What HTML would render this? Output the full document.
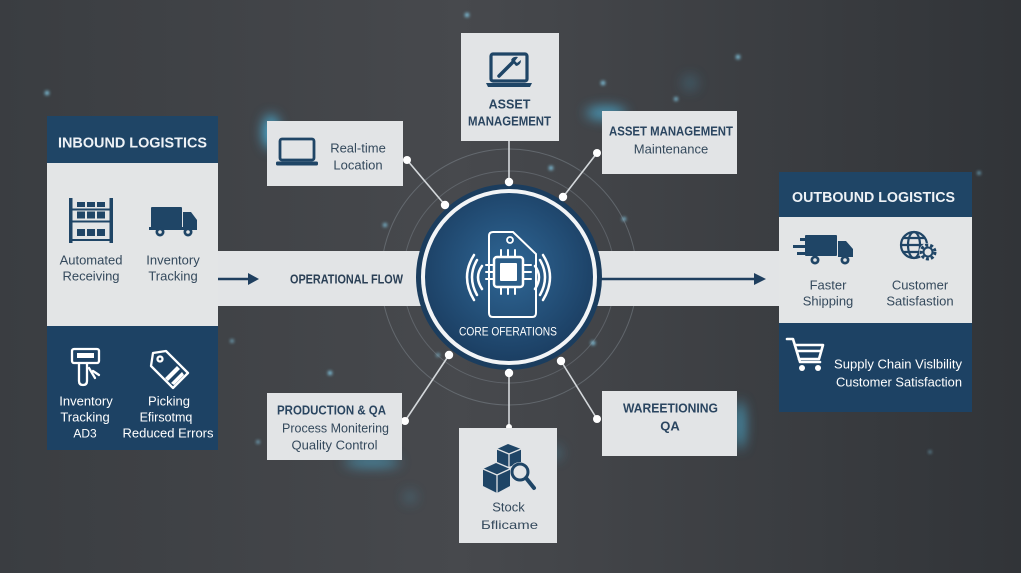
<!DOCTYPE html>
<html><head><meta charset="utf-8"><style>
html,body{margin:0;padding:0;width:1021px;height:573px;overflow:hidden;background:#414448}
svg{display:block}
text{font-family:"Liberation Sans",Arial,sans-serif}
</style></head><body>
<svg width="1021" height="573" viewBox="0 0 1021 573" xmlns="http://www.w3.org/2000/svg">
<defs>
<linearGradient id="bg" x1="0" y1="0" x2="1" y2="0">
<stop offset="0" stop-color="#3a3d41"/><stop offset="0.45" stop-color="#47494d"/><stop offset="1" stop-color="#313438"/>
</linearGradient>
<radialGradient id="core" cx="0.5" cy="0.45" r="0.55">
<stop offset="0" stop-color="#2f6796"/><stop offset="1" stop-color="#1b3e62"/>
</radialGradient>
<filter id="blur" x="-200%" y="-200%" width="500%" height="500%"><feGaussianBlur stdDeviation="6"/></filter>
<filter id="blur2" x="-200%" y="-200%" width="500%" height="500%"><feGaussianBlur stdDeviation="1.5"/></filter>
</defs>

<rect width="1021" height="573" fill="url(#bg)"/>

<!-- glows -->
<g filter="url(#blur)" fill="#4cc6f5">
<ellipse cx="271" cy="132" rx="8" ry="17" opacity="0.8"/>
<ellipse cx="606" cy="113" rx="20" ry="6" opacity="0.7"/>
<ellipse cx="372" cy="462" rx="28" ry="5" opacity="0.55"/>
<ellipse cx="740" cy="425" rx="5" ry="24" opacity="0.65"/>
<ellipse cx="690" cy="83" rx="8" ry="8" opacity="0.2"/>
<ellipse cx="410" cy="497" rx="6" ry="6" opacity="0.25"/>
<ellipse cx="555" cy="453" rx="7" ry="7" opacity="0.25"/>
</g>
<!-- particles -->
<g filter="url(#blur2)" fill="#8fe0ff">
<circle cx="47" cy="93" r="2"/><circle cx="467" cy="15" r="2"/><circle cx="738" cy="57" r="2"/>
<circle cx="603" cy="83" r="2"/><circle cx="676" cy="99" r="1.8"/><circle cx="551" cy="168" r="2"/>
<circle cx="385" cy="225" r="1.8"/><circle cx="624" cy="219" r="1.8"/><circle cx="593" cy="343" r="2"/>
<circle cx="438" cy="355" r="1.5"/><circle cx="330" cy="373" r="2"/><circle cx="232" cy="341" r="1.5"/>
<circle cx="258" cy="442" r="1.5"/><circle cx="979" cy="173" r="1.5"/><circle cx="957" cy="338" r="1.5"/>
<circle cx="930" cy="452" r="1.2"/>
</g>

<!-- concentric thin circles -->
<circle cx="509" cy="277" r="128" fill="none" stroke="#9aa6b0" stroke-opacity="0.35" stroke-width="1"/>
<circle cx="509" cy="277" r="106" fill="none" stroke="#9aa6b0" stroke-opacity="0.3" stroke-width="1"/>

<!-- flow band -->
<rect x="215" y="251" width="566" height="55" fill="#e2e4e6"/>
<line x1="216" y1="279" x2="250" y2="279" stroke="#1f3f5f" stroke-width="2.5"/>
<path d="M248 273 L259 279 L248 285 Z" fill="#1f3f5f"/>
<text x="290" y="283.5" font-size="12.5" font-weight="bold" fill="#2a3f55" textLength="113" lengthAdjust="spacingAndGlyphs">OPERATIONAL FLOW</text>
<line x1="598" y1="279" x2="756" y2="279" stroke="#1f3f5f" stroke-width="2.5"/>
<path d="M754 273 L766 279 L754 285 Z" fill="#1f3f5f"/>

<!-- connectors -->
<g stroke="#d4d8db" stroke-width="1.6">
<line x1="407" y1="160" x2="445" y2="205"/>
<line x1="509" y1="141" x2="509" y2="182"/>
<line x1="597" y1="153" x2="563" y2="197"/>
<line x1="449" y1="355" x2="405" y2="421"/>
<line x1="509" y1="373" x2="509" y2="427"/>
<line x1="561" y1="361" x2="597" y2="419"/>
</g>

<!-- core circle -->
<circle cx="509" cy="277" r="93" fill="#1b3d5e"/>
<circle cx="509" cy="277" r="86" fill="url(#core)" stroke="#f2f4f6" stroke-width="4"/>
<g fill="#ffffff">
<circle cx="407" cy="160" r="4"/><circle cx="445" cy="205" r="4.2"/>
<circle cx="509" cy="182" r="4.2"/><circle cx="563" cy="197" r="4.2"/><circle cx="597" cy="153" r="4"/>
<circle cx="449" cy="355" r="4.2"/><circle cx="509" cy="373" r="4.2"/><circle cx="561" cy="361" r="4.2"/>
<circle cx="405" cy="421" r="4"/><circle cx="597" cy="419" r="4"/><circle cx="509" cy="427" r="3"/>
</g>
<!-- chip icon -->
<g stroke="#ffffff" fill="none" stroke-linecap="round">
<path d="M489 236 Q489 232 493 232 L513 232 L536 254 L536 313 Q536 317 532 317 L493 317 Q489 317 489 313 Z" stroke-width="2"/>
<circle cx="510" cy="240" r="3" stroke-width="1.8"/>
<rect x="494" y="257" width="29" height="30" rx="3" stroke-width="2.5" fill="#2b5d88"/>
<path d="M501 250V257M508 250V257M515 250V257M501 287V294M508 287V294M515 287V294M486 265H494M486 272H494M486 279H494M523 265H531M523 272H531M523 279H531" stroke-width="2"/>
<path d="M482 266 Q474 277 482 289M477 260 Q467 277 477 295M474 255 Q460 277 474 300" stroke-width="2.5"/>
<path d="M535 266 Q543 277 535 289M540 260 Q550 277 540 295M543 255 Q557 277 543 300" stroke-width="2.5"/>
</g>
<rect x="500" y="263" width="17" height="18" rx="1" fill="#ffffff"/>
<text x="459" y="335.5" font-size="12" fill="#ffffff" textLength="98" lengthAdjust="spacingAndGlyphs">CORE OFERATIONS</text>

<!-- INBOUND panel -->
<rect x="47" y="116" width="171" height="47" fill="#1f4566"/>
<rect x="47" y="163" width="171" height="163" fill="#e3e5e6"/>
<rect x="47" y="326" width="171" height="124" fill="#1d4264"/>
<text x="58" y="147.5" font-size="14.5" font-weight="bold" fill="#eef2f6" textLength="149" lengthAdjust="spacingAndGlyphs">INBOUND LOGISTICS</text>
<g fill="#1f4566">
<rect x="69" y="198" width="3.5" height="45"/><rect x="109.5" y="198" width="3.5" height="45"/>
<rect x="69" y="208.5" width="44" height="2"/><rect x="69" y="220.5" width="44" height="2"/><rect x="69" y="239" width="44" height="2"/>
<rect x="77" y="202" width="8" height="5"/><rect x="87" y="202" width="8" height="5"/><rect x="97" y="202" width="8" height="5"/>
<rect x="77" y="211.5" width="8" height="7"/><rect x="87" y="211.5" width="8" height="7"/><rect x="97" y="211.5" width="8" height="7"/>
<rect x="77" y="229" width="8" height="7"/><rect x="87" y="229" width="8" height="7"/><rect x="97" y="229" width="8" height="7"/>
<rect x="151" y="207" width="31" height="21" rx="1"/>
<path d="M183 212 L191 212 L197 220 L197 228 L183 228 Z"/>
<rect x="149" y="227" width="48" height="3"/>
<circle cx="160" cy="232" r="4.5"/><circle cx="188" cy="232" r="4.5"/>
</g>
<circle cx="160" cy="232" r="1.8" fill="#e3e5e6"/><circle cx="188" cy="232" r="1.8" fill="#e3e5e6"/>
<g font-size="13" fill="#34495c" text-anchor="middle">
<text x="91" y="264.5">Automated</text><text x="91" y="280.5">Receiving</text>
<text x="173" y="264.5">Inventory</text><text x="173" y="280.5">Tracking</text>
</g>
<g stroke="#ffffff" fill="none" stroke-width="2.3" stroke-linecap="round" stroke-linejoin="round">
<rect x="72" y="349" width="27" height="14" rx="2"/>
<path d="M79 363 V381 Q79 385 83 385 Q87 385 87 381 V363"/>
<path d="M89 368 L95 378 M93 371 L99 375"/>
<path d="M153 353 L166 351 L188 373 L173 388 L151 366 Z"/>
<circle cx="160" cy="359" r="2.5"/>
</g>
<rect x="77" y="353" width="17" height="5" fill="#ffffff"/>
<path d="M165 378 L177 366 L180 369 L168 381 Z M171 383 L182 372 L184 375 L174 385 Z" fill="#ffffff"/>
<g font-size="13" fill="#ffffff" text-anchor="middle">
<text x="86" y="405.5">Inventory</text><text x="85" y="421.5">Tracking</text><text x="85" y="437.5" font-size="12">AD3</text>
<text x="169" y="405.5">Picking</text><text x="166" y="421.5" font-size="12.5">Efirsotmq</text><text x="168" y="437.5">Reduced Errors</text>
</g>

<!-- OUTBOUND panel -->
<rect x="779" y="172" width="193" height="45" fill="#1f4566"/>
<rect x="779" y="217" width="193" height="106" fill="#e3e5e6"/>
<rect x="779" y="323" width="193" height="89" fill="#1d4264"/>
<text x="792" y="202" font-size="14.5" font-weight="bold" fill="#eef2f6" textLength="163" lengthAdjust="spacingAndGlyphs">OUTBOUND LOGISTICS</text>
<g fill="#1f4566">
<rect x="805" y="235" width="32" height="21" rx="1"/>
<path d="M838 241 L846 241 L853 249 L853 257 L838 257 Z"/>
<rect x="800" y="238" width="14" height="3"/><rect x="793" y="245" width="16" height="3"/><rect x="797" y="252" width="10" height="3"/>
<circle cx="815" cy="260" r="4.5"/><circle cx="845" cy="260" r="4.5"/>
</g>
<circle cx="815" cy="260" r="1.8" fill="#e3e5e6"/><circle cx="845" cy="260" r="1.8" fill="#e3e5e6"/>
<g stroke="#1f4566" fill="none" stroke-width="2.2">
<circle cx="914" cy="245" r="13"/>
<ellipse cx="914" cy="245" rx="6" ry="13"/>
<path d="M901 245 H927 M903 238 H925 M903 252 H925"/>
</g>
<circle cx="928" cy="252" r="9" fill="#e3e5e6"/>
<circle cx="928" cy="252" r="7" fill="none" stroke="#1f4566" stroke-width="3" stroke-dasharray="3 2"/>
<circle cx="928" cy="252" r="4.5" fill="none" stroke="#1f4566" stroke-width="2"/>
<g font-size="13" fill="#34495c" text-anchor="middle">
<text x="828" y="289.5">Faster</text><text x="828" y="305.5">Shipping</text>
<text x="920" y="289.5">Customer</text><text x="920" y="305.5">Satisfastion</text>
</g>
<g stroke="#ffffff" fill="none" stroke-width="2.6" stroke-linecap="round" stroke-linejoin="round">
<path d="M787 339 H793 L800 362 H820"/>
<path d="M795 345 H823 L819 359 H799"/>
<path d="M798 351 H821"/>
</g>
<circle cx="802" cy="368" r="3" fill="#ffffff"/><circle cx="818" cy="368" r="3" fill="#ffffff"/>
<g font-size="13" fill="#ffffff" text-anchor="end">
<text x="962" y="368.5" textLength="128" lengthAdjust="spacingAndGlyphs">Supply Chain Vislbility</text>
<text x="962" y="386.5" textLength="126" lengthAdjust="spacingAndGlyphs">Customer Satisfaction</text>
</g>

<!-- Real-time box -->
<rect x="267" y="121" width="136" height="65" fill="#e2e4e6"/>
<rect x="280" y="139" width="34" height="21" rx="2" fill="none" stroke="#1f4566" stroke-width="2.8"/>
<rect x="276" y="161.5" width="42" height="4" rx="1.5" fill="#1f4566"/>
<g font-size="13" fill="#34495c" text-anchor="middle">
<text x="358" y="152.5">Real-time</text><text x="358" y="169.5">Location</text>
</g>

<!-- Asset management top -->
<rect x="461" y="33" width="98" height="108" fill="#e2e4e6"/>
<rect x="491" y="54" width="36" height="27" rx="2" fill="none" stroke="#1f4566" stroke-width="3.2"/>
<path d="M486 83 H532 L530 87 H488 Z" fill="#1f4566"/>
<path d="M499 76 L513 62" stroke="#1f4566" stroke-width="3.5" stroke-linecap="round"/>
<path d="M511 60 Q513 56 518 57 L515 61 L517 63 L521 60 Q521 65 516 66 Z" fill="#1f4566"/>
<g font-size="12.5" font-weight="bold" fill="#2a4560" text-anchor="middle">
<text x="509.5" y="108.5">ASSET</text>
<text x="509.5" y="125.5" textLength="83" lengthAdjust="spacingAndGlyphs">MANAGEMENT</text>
</g>

<!-- Asset management maintenance -->
<rect x="602" y="111" width="135" height="63" fill="#e2e4e6"/>
<text x="671" y="135.5" font-size="12.5" font-weight="bold" fill="#2a4560" text-anchor="middle" textLength="124" lengthAdjust="spacingAndGlyphs">ASSET MANAGEMENT</text>
<text x="671" y="153.5" font-size="13" fill="#34495c" text-anchor="middle">Maintenance</text>

<!-- Production & QA -->
<rect x="267" y="393" width="135" height="67" fill="#e2e4e6"/>
<text x="277" y="414.5" font-size="12.5" font-weight="bold" fill="#2a4560" textLength="109" lengthAdjust="spacingAndGlyphs">PRODUCTION &amp; QA</text>
<g font-size="13" fill="#34495c" text-anchor="middle">
<text x="335.5" y="432.5" textLength="107" lengthAdjust="spacingAndGlyphs">Process Monitering</text>
<text x="334.5" y="449.5">Quality Control</text>
</g>

<!-- Warehousing -->
<rect x="602" y="391" width="135" height="65" fill="#e2e4e6"/>
<g font-size="13" font-weight="bold" fill="#2a4560" text-anchor="middle">
<text x="670.5" y="412.5" textLength="95" lengthAdjust="spacingAndGlyphs">WAREETIONING</text>
<text x="670" y="430.5">QA</text>
</g>

<!-- Stock -->
<rect x="459" y="428" width="98" height="115" fill="#e2e4e6"/>
<g fill="#1f4566">
<path d="M497 449 L508 444 L521 449 L521 462 L509 467 L497 462 Z"/>
<path d="M483 469 L496 463 L510 469 L510 486 L497 493 L483 486 Z"/>
</g>
<g stroke="#e2e4e6" stroke-width="1.3" fill="none">
<path d="M497 449 L509 454 L521 449 M509 454 V467"/>
<path d="M483 469 L497 475 L510 469 M497 475 V493"/>
</g>
<circle cx="520" cy="472" r="10" fill="#e2e4e6"/>
<circle cx="520" cy="472" r="8" fill="none" stroke="#1f4566" stroke-width="3"/>
<path d="M526 478 L534 488" stroke="#1f4566" stroke-width="4" stroke-linecap="round"/>
<g font-size="13" fill="#34495c" text-anchor="middle">
<text x="508.5" y="511.5">Stock</text>
<text x="509.5" y="529" font-size="12" textLength="57" lengthAdjust="spacingAndGlyphs">Бflicame</text>
</g>
</svg>
</body></html>
